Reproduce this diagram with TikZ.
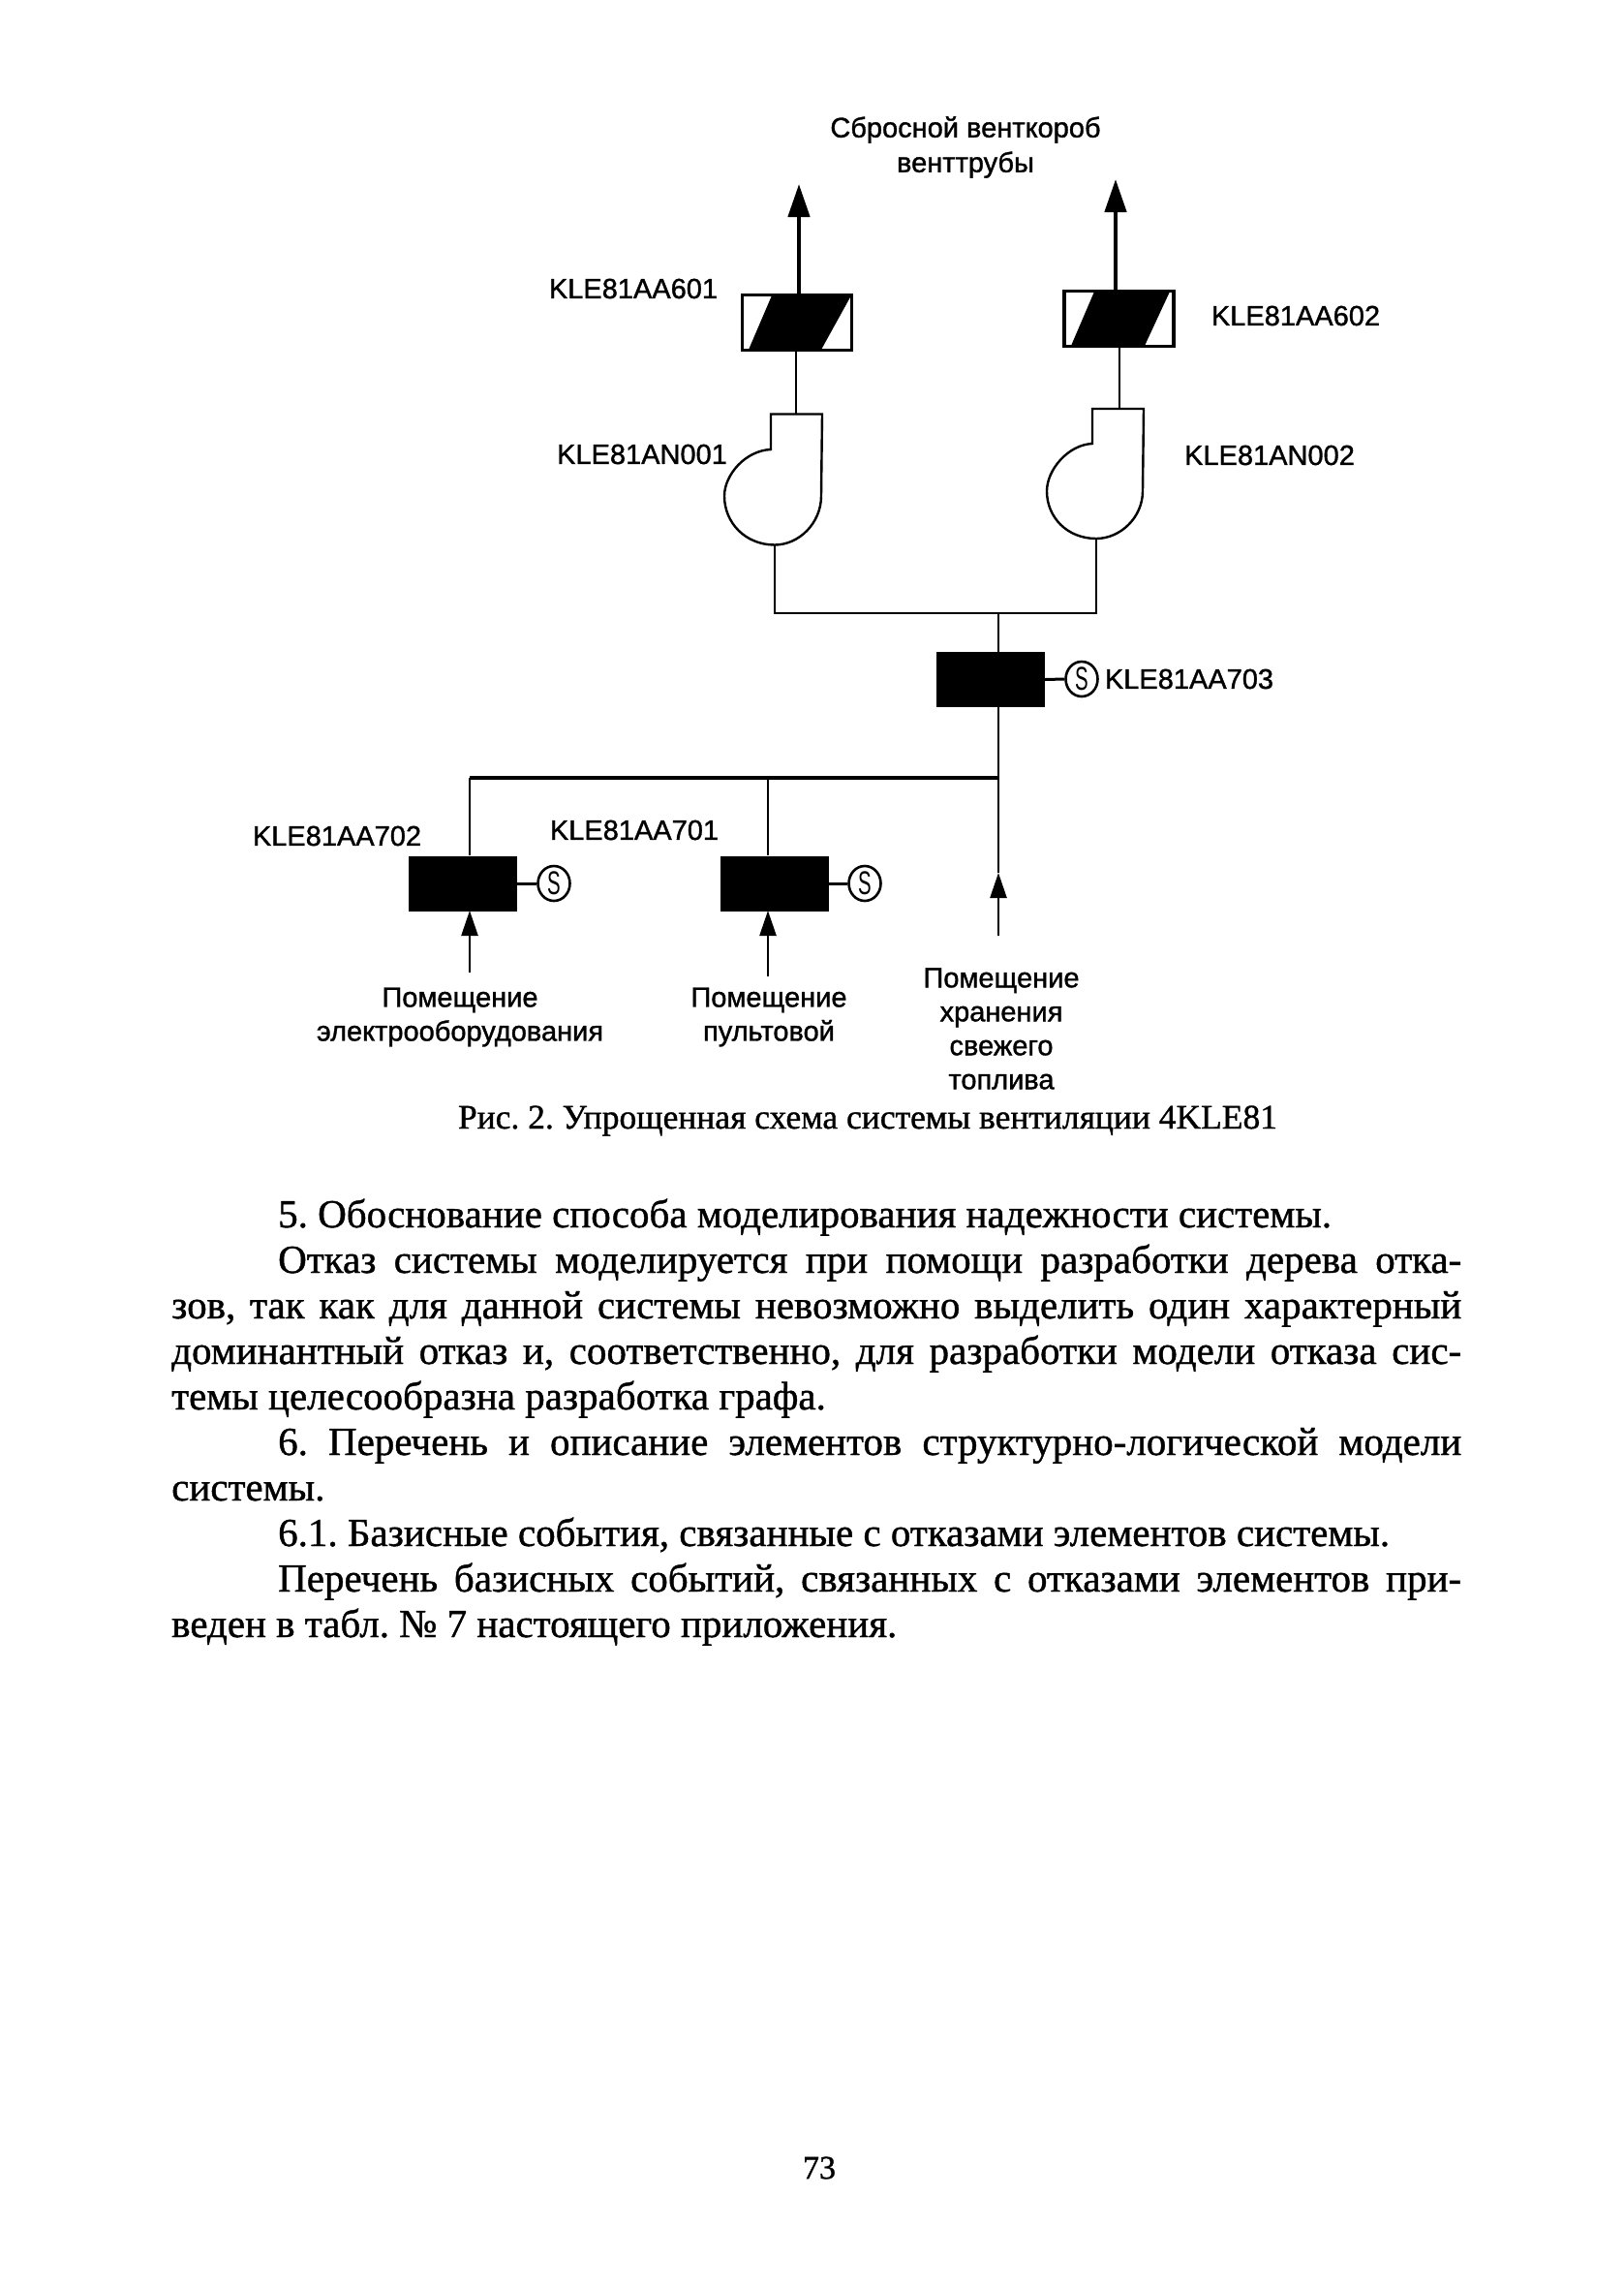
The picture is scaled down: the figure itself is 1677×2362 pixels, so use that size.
\documentclass[tikz,border=0pt]{standalone}
\usepackage{fontspec}
\setmainfont[FakeBold=1]{Liberation Serif}
\newfontfamily\labelfont[FakeBold=1.2]{Liberation Sans}
\newfontfamily\solfont{Liberation Sans}
\usetikzlibrary{arrows.meta,shapes.geometric}
\tikzset{
  x=1pt,y=-1pt,
  pipe/.style={draw=black,line width=2.4pt},
  thickpipe/.style={draw=black,line width=4.5pt},
  flow/.style={pipe,-{Triangle[length=26pt,width=17pt]}},
  upflow/.style={thickpipe,-{Triangle[length=34pt,width=22pt]}},
  tag/.style={font=\labelfont\fontsize{29}{34}\selectfont,inner sep=0pt,anchor=center},
  room/.style={font=\labelfont\fontsize{29}{35}\selectfont,inner sep=0pt,align=center,anchor=center},
  blackvalve/.style={fill=black,draw=none,inner sep=0pt,minimum width=112pt,minimum height=57pt},
  damper/.style={draw=black,line width=2.4pt,fill=white,inner sep=0pt,minimum width=112pt,minimum height=56pt},
  solenoid/.style={draw=black,line width=2.6pt,fill=white,ellipse,inner sep=0pt,minimum width=33pt,minimum height=36pt},
  fan/.style={draw=black,line width=2.4pt,fill=white},
  bodyline/.style={font=\fontsize{41}{47}\selectfont\frenchspacing,inner sep=0pt,anchor=base west},
}
\newcommand{\solS}[1]{\node[font=\solfont\fontsize{34}{34}\selectfont,inner sep=0pt] at (#1) {\scalebox{0.6}[1]{S}};}
\newcommand{\fulljust}[1]{\makebox[1332pt][s]{#1}}
\newcommand{\indjust}[1]{\makebox[1222pt][s]{#1}}
\begin{document}
\begin{tikzpicture}
\useasboundingbox[fill=white] (0,0) rectangle (1677,2362);

% --- top labels
\node[room,font=\labelfont\fontsize{29}{36}\selectfont] (vent) at (997,152) {Сбросной венткороб\\венттрубы};

% --- dampers
\node[damper] (d1) at (823,333) {};
\fill[black] (773,361) -- (797,305) -- (879,305) -- (848,361) -- cycle;
\draw[draw=black,line width=2.4pt] (d1.south west) rectangle (d1.north east);
\node[damper] (d2) at (1155.5,329) {};
\fill[black] (1106,357) -- (1130,301) -- (1208,301) -- (1182,357) -- cycle;
\draw[draw=black,line width=2.4pt] (d2.south west) rectangle (d2.north east);

\coordinate (a1) at (825,190);
\coordinate (a2) at (1152,185);
\coordinate (d1t) at (825,305);
\coordinate (d2t) at (1152,301);
\draw[upflow] (d1t) -- (a1);
\draw[upflow] (d2t) -- (a2);

% --- fans
\draw[fan] (796,427.5) coordinate (f1a) -- (849,427.5) -- (848,512)
  .. controls (848,540) and (825,562.5) .. (800,562.5) coordinate (f1b)
  .. controls (770,562.5) and (748,540) .. (748,512)
  .. controls (748,490) and (770,465) .. (796,464) -- cycle;
\draw[fan] (1128,422) coordinate (f2a) -- (1181,422) -- (1180,507)
  .. controls (1180,534) and (1157,556) .. (1132,556) coordinate (f2b)
  .. controls (1102,556) and (1081,534) .. (1081,507)
  .. controls (1081,485) and (1103,459) .. (1128,458) -- cycle;

\coordinate (d1b) at (822,361);
\coordinate (f1t) at (822,427.5);
\coordinate (d2b) at (1156,357);
\coordinate (f2t) at (1156,422);
\draw[pipe] (d1b) -- (f1t);
\draw[pipe] (d2b) -- (f2t);

% --- collector
\coordinate (m1) at (800,633);
\coordinate (m2) at (1132,633);
\coordinate (m) at (1031,633);
\draw[pipe] (f1b) -- (m1) -- (m2) -- (f2b);

% --- valve 703
\node[blackvalve] (v3) at (1023,701.5) {};
\node[solenoid] (s3) at (1117,701) {};
\solS{s3}
\draw[pipe,line width=3pt] (v3.east) -- (s3.west);
\coordinate (v3t) at (1031,673);
\coordinate (v3b) at (1031,730);
\coordinate (j) at (1031,803);
\draw[pipe] (m) -- (v3t);
\draw[pipe] (v3b) -- (j);

% --- branches
\node[blackvalve] (v2) at (477.5,912) {};
\node[blackvalve] (v1) at (800,912) {};
\node[solenoid] (s2) at (572,912) {};
\node[solenoid] (s1) at (893,912) {};
\solS{s2}
\solS{s1}
\draw[pipe,line width=3pt] (v2.east) -- (s2.west);
\draw[pipe,line width=3pt] (v1.east) -- (s1.west);

\coordinate (b2) at (485,803);
\coordinate (b1) at (793,803);
\coordinate (v2t) at (485,883);
\coordinate (v1t) at (793,883);
\draw[draw=black,line width=3.6pt] (b2) -- (j);
\draw[pipe] (b2) -- (v2t);
\draw[pipe] (b1) -- (v1t);

\coordinate (i2) at (485,1004);
\coordinate (i1) at (793,1008);
\coordinate (i3) at (1031,966);
\coordinate (v2b) at (485,940);
\coordinate (v1b) at (793,940);
\coordinate (i3t) at (1031,901);
\draw[flow] (i2) -- (v2b);
\draw[flow] (i1) -- (v1b);
\draw[flow] (i3) -- (i3t);
\draw[pipe] (i3t) -- (j);

% --- tags
\node[tag] (t601) at (654,298) {KLE81AA601};
\node[tag] (t602) at (1338,326) {KLE81AA602};
\node[tag] (t001) at (663,469) {KLE81AN001};
\node[tag] (t002) at (1311,470) {KLE81AN002};
\node[tag] (t703) at (1228,701) {KLE81AA703};
\node[tag] (t702) at (348,863) {KLE81AA702};
\node[tag] (t701) at (655,857) {KLE81AA701};

% --- rooms
\node[room] (r2) at (475,1050) {Помещение\\электрооборудования};
\node[room] (r1) at (794,1050) {Помещение\\пультовой};
\node[room] (r3) at (1034,1062) {Помещение\\хранения\\свежего\\топлива};

% --- caption
\node[font=\fontsize{35.5}{38}\selectfont\frenchspacing,inner sep=0pt] (cap) at (896,1157) {Рис. 2. Упрощенная схема системы вентиляции 4KLE81};

% --- body
\node[bodyline] (l1) at (287,1267) {5. Обоснование способа моделирования надежности системы.};
\node[bodyline] (l2) at (287,1314) {\indjust{Отказ системы моделируется при помощи разработки дерева отка-}};
\node[bodyline] (l3) at (177,1361) {\fulljust{зов, так как для данной системы невозможно выделить один характерный}};
\node[bodyline] (l4) at (177,1408) {\fulljust{доминантный отказ и, соответственно, для разработки модели отказа сис-}};
\node[bodyline] (l5) at (177,1455) {темы целесообразна разработка графа.};
\node[bodyline] (l6) at (287,1502) {\indjust{6. Перечень и описание элементов структурно-логической модели}};
\node[bodyline] (l7) at (177,1549) {системы.};
\node[bodyline] (l8) at (287,1596) {6.1. Базисные события, связанные с отказами элементов системы.};
\node[bodyline] (l9) at (287,1643) {\indjust{Перечень базисных событий, связанных с отказами элементов при-}};
\node[bodyline] (l10) at (177,1690) {веден в табл. № 7 настоящего приложения.};
\node[font=\fontsize{34}{38}\selectfont,inner sep=0pt] (pg) at (846,2238) {73};
\end{tikzpicture}
\end{document}
